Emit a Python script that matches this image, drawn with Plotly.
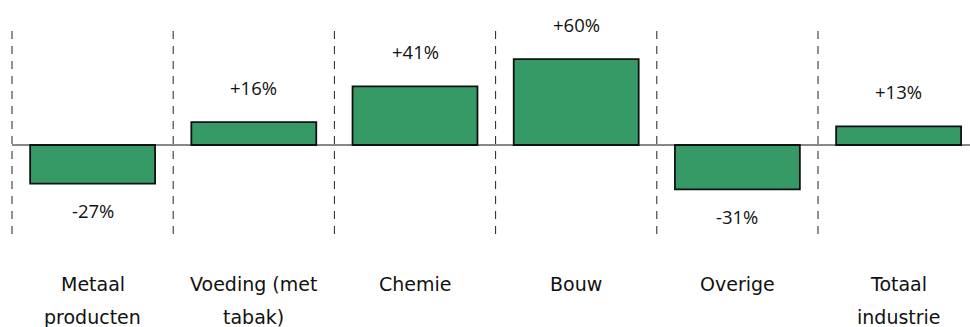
import plotly.graph_objects as go

# Data
categories = ["Metaal producten", "Voeding (met tabak)", "Chemie", "Bouw", "Overige", "Totaal industrie"]
label_line1 = ["Metaal", "Voeding (met", "Chemie", "Bouw", "Overige", "Totaal"]
label_line2 = ["producten", "tabak)", "", "", "", "industrie"]
values = [-27, 16, 41, 60, -31, 13]
value_labels = ["-27%", "+16%", "+41%", "+60%", "-31%", "+13%"]

W, H = 970, 327
cat_w = 161.2          # px per category
first_center = 92.6    # px
px_per_unit = 1.43
zero_px = 145

x_range = [-first_center / cat_w, (W - first_center) / cat_w]
y_range = [-(H - zero_px) / px_per_unit, zero_px / px_per_unit]

x_idx = list(range(len(categories)))

fig = go.Figure()
fig.add_trace(go.Bar(
    x=x_idx, y=values, width=0.775,
    marker=dict(color="#369A67", line=dict(color="#111111", width=1.8)),
    hoverinfo="skip",
))

shapes = []
# dashed separators
for i in range(len(categories)):
    shapes.append(dict(type="line", xref="x", yref="paper",
                       x0=i - 0.5, x1=i - 0.5, y0=1 - 31 / H, y1=1 - 239 / H,
                       line=dict(color="#222222", width=1, dash="8px,7px"), layer="below"))
# zero line
shapes.append(dict(type="line", xref="x", yref="y", x0=-0.5, x1=x_range[1], y0=0, y1=0,
                   line=dict(color="#111111", width=1), layer="above"))

annotations = []
for i, (v, t) in enumerate(zip(values, value_labels)):
    annotations.append(dict(x=i, y=v, xref="x", yref="y", text=t, showarrow=False,
                            yshift=35 if v >= 0 else -27, yanchor="middle",
                            font=dict(family="Open Sans", size=18.5, color="#111111")))
for i, (l1, l2) in enumerate(zip(label_line1, label_line2)):
    annotations.append(dict(x=i, y=1 - 283.5 / H, xref="x", yref="paper", text=l1, showarrow=False,
                            yanchor="middle", font=dict(family="DejaVu Sans", size=19, color="#111111")))
    if l2:
        annotations.append(dict(x=i, y=1 - 316.5 / H, xref="x", yref="paper", text=l2, showarrow=False,
                                yanchor="middle", font=dict(family="DejaVu Sans", size=19, color="#111111")))

fig.update_layout(
    width=W, height=H, margin=dict(l=0, r=0, t=0, b=0),
    paper_bgcolor="white", plot_bgcolor="white", showlegend=False,
    xaxis=dict(range=x_range, visible=False, fixedrange=True),
    yaxis=dict(range=y_range, visible=False, fixedrange=True),
    shapes=shapes, annotations=annotations,
)
fig.write_html("out.html", config={"displayModeBar": False})
